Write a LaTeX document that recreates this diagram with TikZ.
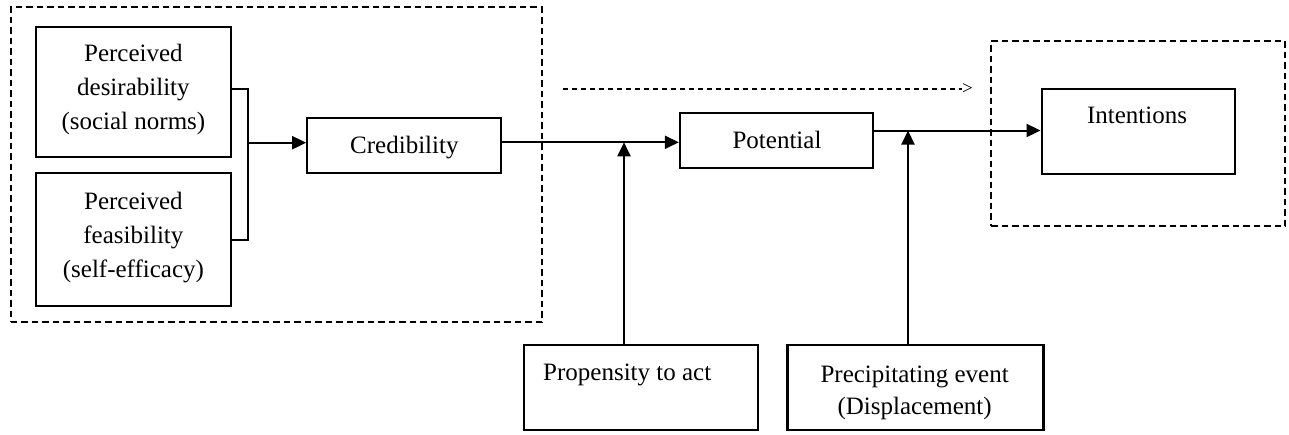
\documentclass[tikz,border=0pt]{standalone}
\usepackage{fontspec}
\setmainfont{Liberation Serif}
\usetikzlibrary{arrows.meta}
\begin{document}
\begin{tikzpicture}[x=1pt,y=-1pt,
 box/.style={draw, line width=2.2pt, rectangle, inner sep=0pt},
 grp/.style={draw, line width=2pt, dash pattern=on 6.5pt off 4pt, rectangle, inner sep=0pt},
 lbl/.style={inner sep=0pt, font=\fontsize{25}{34}\selectfont, align=center},
 conn/.style={line width=2pt},
 arr/.style={conn, -{Triangle[length=14pt,width=13pt]}},
 hint/.style={line width=1.8pt, dash pattern=on 5pt off 4pt}
]
\useasboundingbox (0,0) rectangle (1289,434);
% groups
\node[grp, minimum width=531pt, minimum height=314.7pt] (grpL) at (276.2,164.7) {};
\node[grp, minimum width=294pt, minimum height=185pt] (grpR) at (1138,133.5) {};
% boxes
\node[box, minimum width=194.7pt, minimum height=130pt] (des) at (133.4,92.3) {};
\node[box, minimum width=195pt, minimum height=132.7pt] (fea) at (133.4,239.7) {};
\node[box, minimum width=194pt, minimum height=55pt] (cred) at (404.3,145.8) {};
\node[box, minimum width=192.7pt, minimum height=55pt] (pot) at (776.3,140.5) {};
\node[box, minimum width=193.3pt, minimum height=84.7pt] (int) at (1138.3,131.7) {};
\node[box, minimum width=234pt, minimum height=85pt] (prop) at (641,387.5) {};
\node[box, minimum width=256pt, minimum height=85pt] (prec) at (915.5,387.5) {};
% texts
\node[lbl] (tdes) at (133.4,89.9) {Perceived\\desirability\\(social norms)};
\node[lbl] (tfea) at (133.4,237.5) {Perceived\\feasibility\\(self-efficacy)};
\node[lbl, anchor=base] (tcred) at (404.4,153.3) {Credibility};
\node[lbl, anchor=base] (tpot) at (777,148) {Potential};
\node[lbl, anchor=base] (tint) at (1137,123.3) {Intentions};
\node[lbl, anchor=base west] (tprop) at (543,380) {Propensity to act};
\node[lbl, font=\fontsize{25}{32}\selectfont] (tprec) at (914.6,392.6) {Precipitating event\\(Displacement)};
% connectors
\coordinate (jt) at (248.3,89.3);
\coordinate (jb) at (248.3,240);
\coordinate (jm) at (248.3,142.7);
\draw[conn] (des.east |- jt) -- (jt) -- (jb) -- (fea.east |- jb);
\draw[arr] (jm) -- (cred.west |- jm);
\coordinate (pa) at (624,142.3);
\coordinate (pb) at (908,130.5);
\draw[arr] (cred.east |- pa) -- (pot.west |- pa);
\draw[arr] (prop.north -| pa) -- (pa);
\draw[arr] (pot.east |- pb) -- (int.west |- pb);
\draw[arr] (prec.north -| pb) -- (pb);
% dashed hint arrow
\coordinate (da) at (563,89);
\coordinate (db) at (962,89);
\draw[hint] (da) -- (db);
\node[inner sep=0pt, anchor=west, font=\fontsize{19}{19}\selectfont] (dtip) at (db) {>};
\end{tikzpicture}
\end{document}
